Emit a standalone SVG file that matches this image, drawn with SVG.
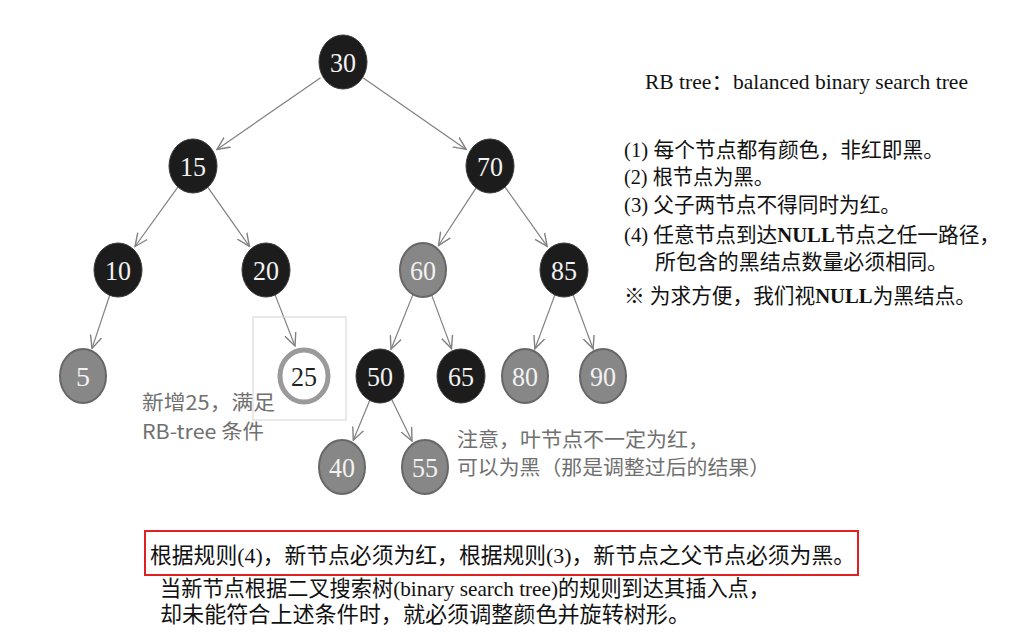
<svg xmlns="http://www.w3.org/2000/svg" width="1035" height="637" viewBox="0 0 1035 637">
<style>
.blk{fill:#1c1c1c;stroke:#3a3a3a;stroke-width:1}
.gry{fill:#878787;stroke:#676767;stroke-width:2}
.new{fill:#ffffff;stroke:#9a9a9a;stroke-width:5}
.nt{font-family:"Liberation Serif",serif;font-size:28px;text-anchor:middle;fill:#f2f2f2}
.nt.dark{fill:#222}
.edge{stroke:#808080;stroke-width:1.2;fill:none;marker-end:url(#arr)}
.note{font-family:"Noto Sans CJK SC","Noto Sans",sans-serif;font-size:20px;fill:#707070}
.rule{font-family:"Liberation Serif","Noto Sans CJK SC",serif;font-size:21px;fill:#111}
.bot{font-family:"Liberation Serif","Noto Sans CJK SC",serif;font-size:22px;fill:#111}
</style>
<defs>
<marker id="arr" markerUnits="userSpaceOnUse" markerWidth="14" markerHeight="14" refX="11" refY="6" orient="auto" viewBox="0 0 12 12">
<path d="M0,1 L11,6 L0,11" fill="none" stroke="#808080" stroke-width="1.2"/>
</marker>
</defs>
<rect width="1035" height="637" fill="#ffffff"/>

<g id="connectors">
<line class="edge" x1="320.6" y1="77.8" x2="216.9" y2="149.5"/>
<line class="edge" x1="363.3" y1="77.9" x2="466.2" y2="149.4"/>
<line class="edge" x1="177.8" y1="187.1" x2="135" y2="246.5"/>
<line class="edge" x1="207.9" y1="187.3" x2="249.4" y2="246.3"/>
<line class="edge" x1="476.1" y1="187.9" x2="438.5" y2="245.5"/>
<line class="edge" x1="505.1" y1="187.2" x2="547.2" y2="246.4"/>
<line class="edge" x1="109.9" y1="294.7" x2="92" y2="348.4"/>
<line class="edge" x1="274.9" y1="294.4" x2="295" y2="346"/>
<line class="edge" x1="413.1" y1="294.1" x2="391" y2="349.2"/>
<line class="edge" x1="431.5" y1="294.6" x2="451.5" y2="348.6"/>
<line class="edge" x1="555.1" y1="294.4" x2="534.9" y2="348.8"/>
<line class="edge" x1="572.9" y1="294.4" x2="593.1" y2="348.8"/>
<line class="edge" x1="369.9" y1="399.9" x2="353.3" y2="440.3"/>
<line class="edge" x1="391.6" y1="399.2" x2="412" y2="441"/>
</g>

<g id="n30"><ellipse class="blk" cx="343" cy="62" rx="24" ry="27"/><text class="nt" x="343" y="72" textLength="26" lengthAdjust="spacingAndGlyphs">30</text></g>
<g id="n15"><ellipse class="blk" cx="193" cy="166" rx="24" ry="27"/><text class="nt" x="193" y="176" textLength="26" lengthAdjust="spacingAndGlyphs">15</text></g>
<g id="n70"><ellipse class="blk" cx="490" cy="166" rx="24" ry="27"/><text class="nt" x="490" y="176" textLength="26" lengthAdjust="spacingAndGlyphs">70</text></g>
<g id="n10"><ellipse class="blk" cx="118" cy="270" rx="24" ry="27"/><text class="nt" x="118" y="280" textLength="26" lengthAdjust="spacingAndGlyphs">10</text></g>
<g id="n20"><ellipse class="blk" cx="266" cy="270" rx="24" ry="27"/><text class="nt" x="266" y="280" textLength="26" lengthAdjust="spacingAndGlyphs">20</text></g>
<g id="n60"><ellipse class="gry" cx="423" cy="270" rx="23" ry="27"/><text class="nt" x="423" y="280" textLength="26" lengthAdjust="spacingAndGlyphs">60</text></g>
<g id="n85"><ellipse class="blk" cx="564" cy="270" rx="24" ry="27"/><text class="nt" x="564" y="280" textLength="26" lengthAdjust="spacingAndGlyphs">85</text></g>
<g id="n5"><ellipse class="gry" cx="83" cy="376" rx="23" ry="27"/><text class="nt" x="83" y="386">5</text></g>
<g id="n25">
<rect x="253" y="317" width="93" height="103" fill="none" stroke="#d4d4d4" stroke-width="1"/>
<ellipse class="new" cx="304" cy="376" rx="24" ry="26"/><text class="nt dark" x="304" y="386" textLength="26" lengthAdjust="spacingAndGlyphs">25</text></g>
<g id="n50"><ellipse class="blk" cx="380" cy="376" rx="24" ry="27"/><text class="nt" x="380" y="386" textLength="26" lengthAdjust="spacingAndGlyphs">50</text></g>
<g id="n65"><ellipse class="blk" cx="461" cy="376" rx="24" ry="27"/><text class="nt" x="461" y="386" textLength="26" lengthAdjust="spacingAndGlyphs">65</text></g>
<g id="n80"><ellipse class="gry" cx="525" cy="376" rx="23" ry="27"/><text class="nt" x="525" y="386" textLength="26" lengthAdjust="spacingAndGlyphs">80</text></g>
<g id="n90"><ellipse class="gry" cx="603" cy="376" rx="23" ry="27"/><text class="nt" x="603" y="386" textLength="26" lengthAdjust="spacingAndGlyphs">90</text></g>
<g id="n40"><ellipse class="gry" cx="342" cy="467" rx="23" ry="27"/><text class="nt" x="342" y="477" textLength="26" lengthAdjust="spacingAndGlyphs">40</text></g>
<g id="n55"><ellipse class="gry" cx="425" cy="467" rx="23" ry="27"/><text class="nt" x="425" y="477" textLength="26" lengthAdjust="spacingAndGlyphs">55</text></g>

<g id="notes">
<text class="note" x="142" y="410" textLength="133" lengthAdjust="spacingAndGlyphs">新增25，满足</text>
<text class="note" x="142" y="439" textLength="122" lengthAdjust="spacingAndGlyphs">RB-tree 条件</text>
<text class="note" x="457" y="447" textLength="252" lengthAdjust="spacingAndGlyphs">注意，叶节点不一定为红，</text>
<text class="note" x="457" y="475" textLength="313" lengthAdjust="spacingAndGlyphs">可以为黑（那是调整过后的结果）</text>
</g>

<g id="rules">
<text class="rule" x="645" y="89" font-size="20" textLength="323" lengthAdjust="spacingAndGlyphs">RB tree：balanced binary search tree</text>
<text class="rule" x="624" y="157" textLength="320" lengthAdjust="spacingAndGlyphs">(1) 每个节点都有颜色，非红即黑。</text>
<text class="rule" x="624" y="184" textLength="150" lengthAdjust="spacingAndGlyphs">(2) 根节点为黑。</text>
<text class="rule" x="624" y="212" textLength="277" lengthAdjust="spacingAndGlyphs">(3) 父子两节点不得同时为红。</text>
<text class="rule" x="624" y="242" textLength="376" lengthAdjust="spacingAndGlyphs">(4) 任意节点到达<tspan font-weight="bold">NULL</tspan>节点之任一路径，</text>
<text class="rule" x="655" y="269" textLength="293" lengthAdjust="spacingAndGlyphs">所包含的黑结点数量必须相同。</text>
<text class="rule" x="624" y="303" textLength="352" lengthAdjust="spacingAndGlyphs">※ 为求方便，我们视<tspan font-weight="bold">NULL</tspan>为黑结点。</text>
</g>

<g id="bottom">
<rect x="145" y="531" width="713" height="44" fill="none" stroke="#e02020" stroke-width="2"/>
<text class="bot" x="150" y="563" textLength="705" lengthAdjust="spacingAndGlyphs">根据规则(4)，新节点必须为红，根据规则(3)，新节点之父节点必须为黑。</text>
<text class="bot" x="160" y="596" textLength="610" lengthAdjust="spacingAndGlyphs">当新节点根据二叉搜索树(binary search tree)的规则到达其插入点，</text>
<text class="bot" x="160" y="622" textLength="530" lengthAdjust="spacingAndGlyphs">却未能符合上述条件时，就必须调整颜色并旋转树形。</text>
</g>
</svg>
